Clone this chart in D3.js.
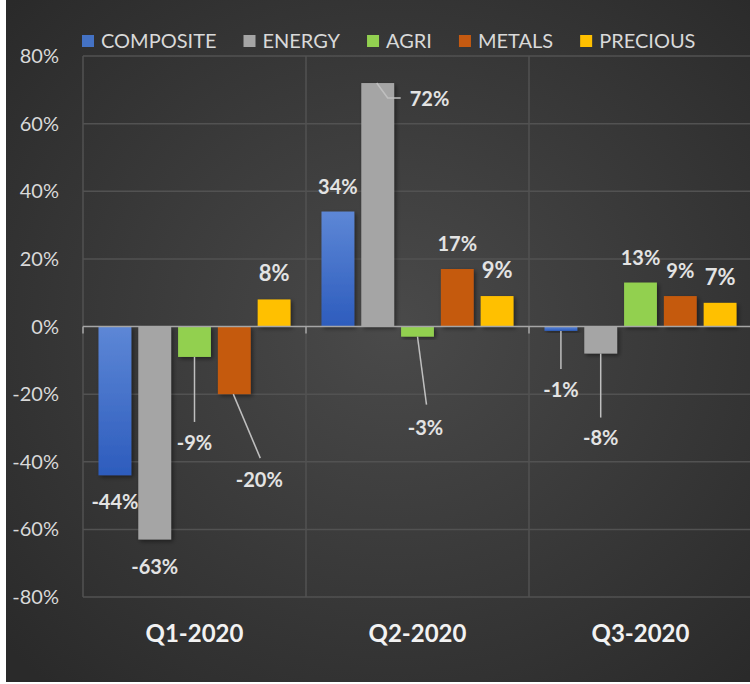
<!DOCTYPE html>
<html>
<head>
<meta charset="utf-8">
<script src="https://cdn.jsdelivr.net/npm/d3@7"></script>
<style>
  html, body { margin: 0; padding: 0; background: #fff; }
  svg { display: block; font-family: Lato, 'Open Sans', sans-serif; }
</style>
</head>
<body>
<div id="chart"></div>
<script>
const quarters = ['Q1-2020', 'Q2-2020', 'Q3-2020']
const series = ['COMPOSITE', 'ENERGY', 'AGRI', 'METALS', 'PRECIOUS']
const seriesColors = ['#4472C4', '#A5A5A5', '#92D050', '#C55A11', '#FFC000']
const composite = [-44, 34, -1.3]
const energy = [-63, 72, -8]
const agri = [-9, -3, 13]
const metals = [-20, 17, 9]
const precious = [8, 9, 7]
const yTicks = [-80, -60, -40, -20, 0, 20, 40, 60, 80]

// leader lines for labels pushed away from their bar (offsets from bar end)
const callouts = {
    'AGRI|Q1-2020': { line: [[0, 0], [0, 65]], label: [0, 93] },
    'METALS|Q1-2020': { line: [[-1, 0], [26, 64]], label: [25, 93] },
    'ENERGY|Q2-2020': { line: [[-1, 0], [10, 15], [23, 15]], label: [32, 23], anchor: 'start' },
    'AGRI|Q2-2020': { line: [[0, 0], [9, 68]], label: [8, 98] },
    'COMPOSITE|Q3-2020': { line: [[0, 0], [0, 38]], label: [0, 66] },
    'ENERGY|Q3-2020': { line: [[0, 0], [0, 64]], label: [0, 91] }
}

const valuesBySeries = [composite, energy, agri, metals, precious]
const data = []
quarters.forEach((q, qi) => {
    series.forEach((s, si) => {
        data.push({ quarter: q, series: s, value: valuesBySeries[si][qi], color: seriesColors[si] })
    })
})

const dim = { width: 750, height: 684 }
const plot = { left: 83, right: 752, top: 56, bottom: 597 }

const wrapper = d3.select('#chart').append('svg')
    .attr('width', dim.width).attr('height', dim.height)

const defs = wrapper.append('defs')
const bg = defs.append('radialGradient').attr('id', 'bg')
    .attr('cx', '52%').attr('cy', '48%').attr('r', '70%')
bg.append('stop').attr('offset', '0%').attr('stop-color', '#4a4a4a')
bg.append('stop').attr('offset', '100%').attr('stop-color', '#2a2a2a')

const blue = defs.append('linearGradient').attr('id', 'blue')
    .attr('x1', 0).attr('x2', 0).attr('y1', 0).attr('y2', 1)
blue.append('stop').attr('offset', '0%').attr('stop-color', '#5d87d6')
blue.append('stop').attr('offset', '100%').attr('stop-color', '#2d5cbd')

const shadow = defs.append('filter').attr('id', 'shadow')
    .attr('x', '-30%').attr('y', '-30%').attr('width', '160%').attr('height', '160%')
shadow.append('feDropShadow').attr('dx', 2).attr('dy', 2)
    .attr('stdDeviation', 2).attr('flood-color', '#000').attr('flood-opacity', 0.45)

wrapper.append('rect')
    .attr('x', 6).attr('y', 0)
    .attr('width', dim.width - 6).attr('height', 682)
    .attr('fill', 'url(#bg)')

const y = d3.scaleLinear().domain([-80, 80]).range([plot.bottom, plot.top])
const x0 = d3.scaleBand().domain(quarters)
    .range([plot.left, plot.left + 223 * quarters.length])
const x1 = d3.scaleBand().domain(series)
    .range([15.5, x0.bandwidth() - 15.5]).paddingInner(0.175)

// grid
const grid = wrapper.append('g')
grid.selectAll('.hgrid')
    .data(yTicks.filter(d => d != 0))
    .join('line').attr('class', 'hgrid')
    .attr('x1', plot.left).attr('x2', plot.right)
    .attr('y1', d => y(d)).attr('y2', d => y(d))
    .attr('stroke', '#525252').attr('stroke-width', 1.5)
grid.selectAll('.vgrid')
    .data(quarters)
    .join('line').attr('class', 'vgrid')
    .attr('x1', d => x0(d)).attr('x2', d => x0(d))
    .attr('y1', plot.top).attr('y2', plot.bottom)
    .attr('stroke', '#525252').attr('stroke-width', 1.5)

// y axis labels
wrapper.append('g')
    .selectAll('text')
    .data(yTicks)
    .join('text')
    .attr('x', 59).attr('y', d => y(d))
    .attr('dy', '0.35em')
    .attr('text-anchor', 'end')
    .attr('font-size', 20)
    .attr('fill', '#d9d9d9')
    .text(d => d + '%')

// bars
const bars = wrapper.append('g')
bars.selectAll('rect')
    .data(data)
    .join('rect')
    .attr('x', d => x0(d.quarter) + x1(d.series))
    .attr('y', d => y(Math.max(0, d.value)))
    .attr('width', x1.bandwidth())
    .attr('height', d => Math.abs(y(d.value) - y(0)))
    .attr('fill', d => d.series == 'COMPOSITE' ? 'url(#blue)' : d.color)
    .attr('filter', 'url(#shadow)')

// zero axis + ticks
wrapper.append('line')
    .attr('x1', plot.left).attr('x2', plot.right)
    .attr('y1', y(0)).attr('y2', y(0))
    .attr('stroke', '#a6a6a6').attr('stroke-width', 1.5)
wrapper.append('g').selectAll('line')
    .data(quarters)
    .join('line')
    .attr('x1', d => x0(d)).attr('x2', d => x0(d))
    .attr('y1', y(0)).attr('y2', y(0) + 7)
    .attr('stroke', '#a6a6a6').attr('stroke-width', 1.5)

// category labels
wrapper.append('g')
    .selectAll('text')
    .data(quarters)
    .join('text')
    .attr('x', d => x0(d) + x0.bandwidth() / 2)
    .attr('y', 642)
    .attr('text-anchor', 'middle')
    .attr('font-size', 24).attr('font-weight', 700)
    .attr('fill', '#f2f2f2')
    .text(d => d)

// data labels
const fmt = d => Math.round(d) + '%'
const labels = wrapper.append('g')
data.forEach(d => {
    const cx = x0(d.quarter) + x1(d.series) + x1.bandwidth() / 2
    const ey = y(d.value)
    const key = d.series + '|' + d.quarter
    const c = callouts[key]
    let lx = cx, ly, anchor = 'middle'
    if (c) {
        labels.append('path')
            .attr('d', d3.line()(c.line.map(p => [cx + p[0], ey + p[1]])))
            .attr('fill', 'none')
            .attr('stroke', '#bfbfbf').attr('stroke-width', 1.5)
        lx = cx + c.label[0]
        ly = ey + c.label[1]
        anchor = c.anchor || 'middle'
    } else {
        ly = d.value >= 0 ? ey - 18 : ey + 34
    }
    labels.append('text')
        .attr('x', lx).attr('y', ly)
        .attr('text-anchor', anchor)
        .attr('font-size', d.series == 'PRECIOUS' ? 22 : 20)
        .attr('font-weight', 700)
        .attr('fill', '#e3e3e3')
        .text(fmt(d.value))
})

// legend
const legend = wrapper.append('g')
let lxPos = 82
series.forEach((s, i) => {
    legend.append('rect')
        .attr('x', lxPos).attr('y', 35)
        .attr('width', 12).attr('height', 12)
        .attr('fill', seriesColors[i])
    const t = legend.append('text')
        .attr('x', lxPos + 19).attr('y', 41)
        .attr('dy', '0.36em')
        .attr('font-size', 20)
        .attr('fill', '#d9d9d9')
        .text(s)
    lxPos += 19 + t.node().getComputedTextLength() + 27
})
</script>
</body>
</html>
